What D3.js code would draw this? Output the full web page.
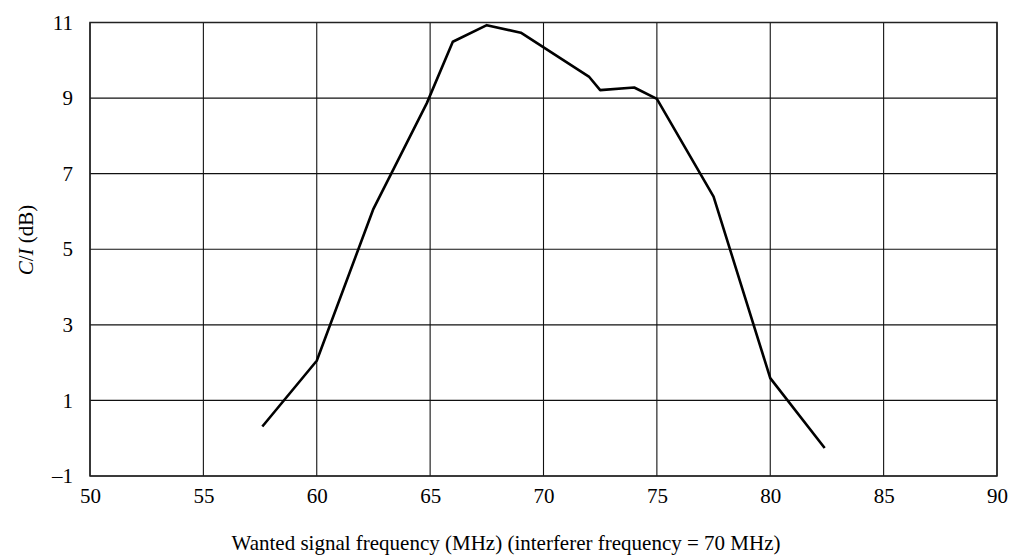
<!DOCTYPE html>
<html><head><meta charset="utf-8">
<script src="https://cdn.jsdelivr.net/npm/d3@7"></script>
<style>body{margin:0;background:#fff}svg{display:block}text{font-family:"Liberation Serif","Times New Roman",serif;fill:#000}</style>
</head><body><svg id="c" width="1015" height="559"></svg>
<script>
const freq = [57.6, 60, 62.5, 64.85, 66, 67.5, 69, 72, 72.5, 74, 75, 77.5, 80, 82.4];
const ci   = [0.31, 2.05, 6.07, 8.86, 10.49, 10.93, 10.73, 9.57, 9.21, 9.28, 8.98, 6.39, 1.59, -0.26];
const xTicks = [50,55,60,65,70,75,80,85,90];
const yTicks = [-1,1,3,5,7,9,11];
const xTitle = "Wanted signal frequency (MHz) (interferer frequency = 70 MHz)";

const svg = d3.select("#c");
const L=90,R=997,T=22.5,B=476;
const x = d3.scaleLinear().domain([50,90]).range([L,R]);
const y = d3.scaleLinear().domain([-1,11]).range([B,T]);
const g = svg.append("g");
g.selectAll(".vg").data(xTicks).join("line").attr("x1",d=>x(d)).attr("x2",d=>x(d)).attr("y1",T).attr("y2",B).attr("stroke","#111").attr("stroke-width",1.1);
g.selectAll(".hg").data(yTicks).join("line").attr("y1",d=>y(d)).attr("y2",d=>y(d)).attr("x1",L).attr("x2",R).attr("stroke","#111").attr("stroke-width",1.1);
g.append("rect").attr("x",L).attr("y",T).attr("width",R-L).attr("height",B-T).attr("fill","none").attr("stroke","#222").attr("stroke-width",1.5);
const xa = svg.append("g").attr("transform",`translate(0,${B})`).call(d3.axisBottom(x).tickValues(xTicks).tickSize(0).tickPadding(12).tickFormat(d3.format("d")));
xa.select(".domain").remove();
xa.selectAll("text").attr("font-size",21).style("font-family","Liberation Serif");
const ya = svg.append("g").attr("transform",`translate(${L},0)`).call(d3.axisLeft(y).tickValues(yTicks).tickSize(0).tickPadding(17).tickFormat(d=>d<0?"\u2013"+Math.abs(d):d));
ya.select(".domain").remove();
ya.selectAll("text").attr("font-size",21).style("font-family","Liberation Serif");
svg.append("path").datum(freq.map((f,i)=>[f,ci[i]])).attr("fill","none").attr("stroke","#000").attr("stroke-width",2.6).attr("stroke-linejoin","round")
  .attr("d",d3.line().x(d=>x(d[0])).y(d=>y(d[1])));
svg.append("text").attr("x",506).attr("y",550).attr("text-anchor","middle").attr("font-size",21).text(xTitle);
const yt = svg.append("text").attr("transform",`translate(33,240) rotate(-90)`).attr("text-anchor","middle").attr("font-size",21);
yt.append("tspan").attr("font-style","italic").text("C");
yt.append("tspan").text("/");
yt.append("tspan").attr("font-style","italic").text("I");
yt.append("tspan").text(" (dB)");
</script></body></html>
